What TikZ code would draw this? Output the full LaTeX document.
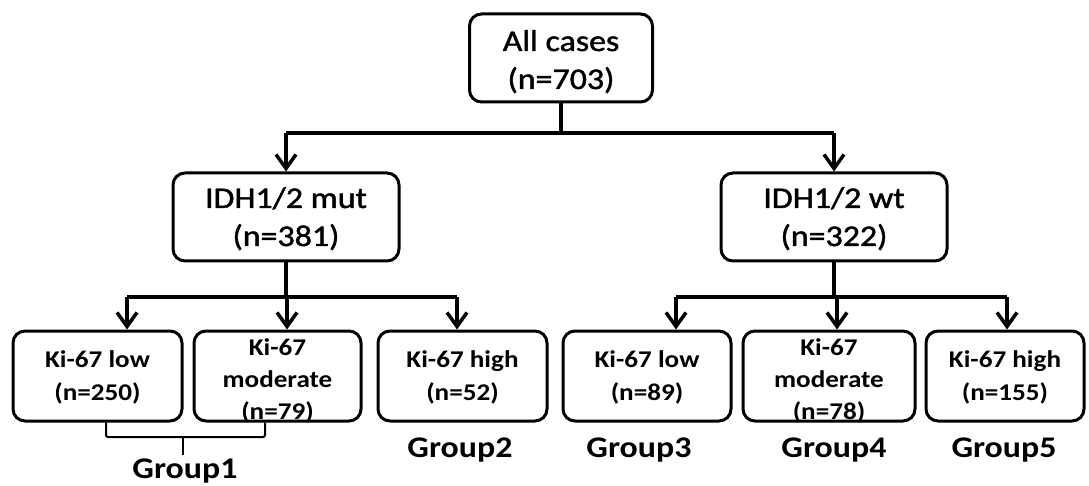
\documentclass[tikz,border=0pt]{standalone}
\usepackage{fontspec}
\setmainfont{Carlito}[FakeStretch=1.13]
\newfontfamily\topfont{Carlito}[FakeStretch=1.13,FakeBold=1.5]
\usetikzlibrary{arrows.meta}
\begin{document}
\begin{tikzpicture}[x=1pt,y=-1pt,
  box/.style={draw, line width=3pt, rounded corners=12pt, inner sep=0pt},
  topt/.style={font=\fontsize{30}{38}\topfont, align=center, anchor=base, inner sep=0pt},
  kit/.style={font=\fontsize{24}{33}\selectfont\bfseries, align=center, anchor=base, inner sep=0pt},
  kitm/.style={font=\fontsize{24}{32}\selectfont\bfseries, align=center, anchor=base, inner sep=0pt},
  grp/.style={font=\fontsize{30}{34}\selectfont\bfseries, anchor=base},
  conn/.style={line width=3.5pt},
  arr/.style={conn, -{Straight Barb[length=14pt,width=20pt]}},
  brk/.style={line width=2pt, rounded corners=2pt},
]
\useasboundingbox (0,0) rectangle (1089,486);
% boxes
\node[box, minimum width=183pt, minimum height=88pt] (all) at (561,58) {};
\node[box, minimum width=226pt, minimum height=88pt] (mut) at (286,217) {};
\node[box, minimum width=226pt, minimum height=88pt] (wt) at (834,217) {};
\node[box, minimum width=169pt, minimum height=90pt] (b1) at (97.5,376) {};
\node[box, minimum width=167pt, minimum height=90pt] (b2) at (277.5,376) {};
\node[box, minimum width=169pt, minimum height=90pt] (b3) at (462.5,376) {};
\node[box, minimum width=168pt, minimum height=90pt] (b4) at (647,376) {};
\node[box, minimum width=172pt, minimum height=90pt] (b5) at (829,376) {};
\node[box, minimum width=158pt, minimum height=90pt] (b6) at (1005,376) {};
% box texts (anchored at last baseline)
\node[topt] (t0) at (561,89) {All cases\\(n=703)};
\node[topt] (t1) at (286,246) {IDH1/2 mut\\(n=381)};
\node[topt] (t2) at (834,246) {IDH1/2 wt\\(n=322)};
\node[kit] (t3) at (97.5,400) {Ki-67 low\\(n=250)};
\node[kitm] (t4) at (277.5,419) {Ki-67\\moderate\\(n=79)};
\node[kit] (t5) at (462.5,400) {Ki-67 high\\(n=52)};
\node[kit] (t6) at (647,400) {Ki-67 low\\(n=89)};
\node[kitm] (t7) at (829,419) {Ki-67\\moderate\\(n=78)};
\node[kit] (t8) at (1005,400) {Ki-67 high\\(n=155)};
% group labels
\node[grp] (g1) at (185,478) {Group1};
\node[grp] (g2) at (460,457) {Group2};
\node[grp] (g3) at (639,457) {Group3};
\node[grp] (g4) at (834,457) {Group4};
\node[grp] (g5) at (1004,457) {Group5};
% junction coordinates
\coordinate (j0) at (561,133);
\coordinate (j0l) at (286,133);
\coordinate (j0r) at (834,133);
\coordinate (j1) at (286,297);
\coordinate (a1) at (127,297);
\coordinate (a2) at (287,297);
\coordinate (a3) at (457,297);
\coordinate (j2) at (834,297);
\coordinate (a4) at (676,297);
\coordinate (a5) at (837,297);
\coordinate (a6) at (1007,297);
% connectors
\draw[conn] (all.south) -- (j0);
\draw[conn] (j0l) -- (j0r);
\draw[arr] (j0l) -- (mut.north);
\draw[arr] (j0r) -- (wt.north);
\draw[conn] (mut.south) -- (j1);
\draw[conn] (a1) -- (a3);
\draw[arr] (a1) -- (a1 |- b1.north);
\draw[arr] (a2) -- (a2 |- b2.north);
\draw[arr] (a3) -- (a3 |- b3.north);
\draw[conn] (wt.south) -- (j2);
\draw[conn] (a4) -- (a6);
\draw[arr] (a4) -- (a4 |- b4.north);
\draw[arr] (a5) -- (a5 |- b5.north);
\draw[arr] (a6) -- (a6 |- b6.north);
% bracket for Group1
\coordinate (bl) at (106,437);
\coordinate (br) at (265,437);
\coordinate (bm) at (183,437);
\coordinate (bt) at (183,455);
\draw[brk] (bl |- b1.south) -- (bl) -- (br) -- (br |- b2.south);
\draw[brk] (bm) -- (bt);
\end{tikzpicture}
\end{document}
